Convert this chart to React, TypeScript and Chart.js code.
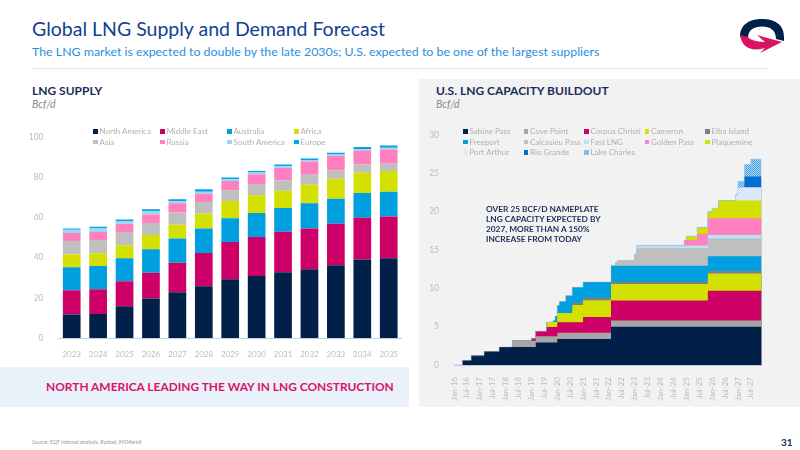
import { useEffect, useRef } from 'react';
import Chart from 'chart.js/auto';

const FONT = 'Lato, sans-serif';
const TICK_GREY = '#bcbcbc';

// left chart
const years = ['2023', '2024', '2025', '2026', '2027', '2028', '2029', '2030', '2031', '2032', '2033', '2034', '2035'];
const northAmerica = [11.7, 12, 15.8, 19.7, 22.8, 25.7, 29.2, 30.8, 32.7, 34.2, 36.2, 39, 39.7];
const middleEast = [12, 12.3, 12.4, 12.8, 14.7, 16.6, 18.5, 19.5, 20.1, 20.3, 20.6, 20.8, 20.8];
const australia = [11.5, 11.5, 11.5, 11.7, 12, 12.2, 11.9, 11.9, 11.9, 12.5, 12.5, 12.4, 12.3];
const africa = [6.5, 6.4, 6.5, 7, 6.8, 7.5, 8.5, 8.8, 8.6, 9.2, 9.9, 10, 10.3];
const asia = [6.5, 6.5, 6.5, 6, 6.2, 5.7, 5.4, 5.3, 5, 5, 4.3, 4.1, 3.6];
const russia = [4.1, 4, 4.1, 4.3, 4.5, 4.1, 4.6, 5.2, 6.3, 6.6, 7.2, 7, 7.1];
const southAmerica = [1.5, 2, 1.4, 1.5, 1, 1, 0.9, 0.8, 0.9, 0.7, 0.6, 0.7, 0.8];
const europe = [0.7, 0.6, 0.8, 1, 1, 1.2, 0.8, 0.8, 0.8, 0.8, 0.9, 1, 1.2];

const supplyNames = ['North America', 'Middle East', 'Australia', 'Africa', 'Asia', 'Russia', 'South America', 'Europe'];
const supplyValues = [northAmerica, middleEast, australia, africa, asia, russia, southAmerica, europe];
const supplyColors = ['#00204a', '#cc0066', '#009fdf', '#d4e000', '#bfbfbf', '#ff80bf', '#99d6f7', '#00a5e6'];
const yTicksLeft = [0, 20, 40, 60, 80, 100];

// right chart, months since Jan-16 where any project changes
const stepMonths = [0, 4, 8, 14, 21, 27, 36, 38, 43, 46, 47, 48, 49, 52, 55, 60, 73, 75, 76, 84, 85, 107, 108, 113, 118, 120, 123, 131, 132, 135, 138, 143];
const monthTicks = ['Jan-16', 'Jul-16', 'Jan-17', 'Jul-17', 'Jan-18', 'Jul-18', 'Jan-19', 'Jul-19', 'Jan-20', 'Jul-20', 'Jan-21', 'Jul-21', 'Jan-22', 'Jul-22', 'Jan-23', 'Jul-23', 'Jan-24', 'Jul-24', 'Jan-25', 'Jul-25', 'Jan-26', 'Jul-26', 'Jan-27', 'Jul-27'];
const sabinePass = [0, 0.6, 1.2, 1.75, 2.35, 2.35, 2.35, 2.95, 2.95, 2.95, 2.95, 3.4, 3.4, 3.4, 3.4, 3.4, 5, 5, 5, 5, 5, 5, 5, 5, 5, 5, 5, 5, 5, 5, 5, 5];
const covePoint = [0, 0, 0, 0, 0, 0.8, 0.8, 0.8, 0.8, 0.8, 0.8, 0.8, 0.8, 0.8, 0.8, 0.8, 0.8, 0.8, 0.8, 0.8, 0.8, 0.8, 0.8, 0.8, 0.8, 0.8, 0.8, 0.8, 0.8, 0.8, 0.8, 0.8];
const corpusChristi = [0, 0, 0, 0, 0, 0, 0.3, 0.65, 1.2, 1.2, 1.2, 1.36, 1.36, 1.36, 1.36, 2.06, 2.6, 2.6, 2.6, 2.6, 2.6, 2.6, 2.6, 2.6, 3.9, 3.9, 3.9, 3.9, 3.9, 3.9, 3.9, 3.9];
const cameron = [0, 0, 0, 0, 0, 0, 0, 0, 0.65, 0.65, 0.65, 1.22, 1.22, 1.22, 2.27, 2.2, 2.15, 2.15, 2.15, 2.15, 2.15, 2.15, 2.15, 2.15, 2.25, 2.25, 2.25, 2.25, 2.25, 2.25, 2.25, 2.25];
const elbaIsland = [0, 0, 0, 0, 0, 0, 0, 0, 0, 0, 0, 0, 0, 0, 0.3, 0.3, 0.3, 0.3, 0.3, 0.3, 0.3, 0.3, 0.3, 0.3, 0.3, 0.3, 0.3, 0.3, 0.3, 0.3, 0.3, 0.3];
const freeport = [0, 0, 0, 0, 0, 0, 0, 0, 0, 0.2, 0.8, 1, 1.5, 2.26, 2, 2.07, 2.1, 2.1, 2.1, 2.1, 2.1, 2.1, 2.1, 2.1, 1.95, 1.95, 1.95, 1.95, 1.95, 1.95, 1.95, 1.95];
const calcasieuPass = [0, 0, 0, 0, 0, 0, 0, 0, 0, 0, 0, 0, 0, 0, 0, 0, 0, 0.4, 0.65, 1.5, 2.3, 2.3, 2.3, 2.3, 2.3, 2.3, 2.3, 2.3, 2.3, 2.3, 2.3, 2.3];
const fastLng = [0, 0, 0, 0, 0, 0, 0, 0, 0, 0, 0, 0, 0, 0, 0, 0, 0, 0, 0, 0, 0.35, 0.35, 0.35, 0.35, 0.45, 0.45, 0.45, 0.45, 0.45, 0.45, 0.45, 0.45];
const goldenPass = [0, 0, 0, 0, 0, 0, 0, 0, 0, 0, 0, 0, 0, 0, 0, 0, 0, 0, 0, 0, 0, 0.7, 0.7, 1.48, 2.2, 2.2, 2.2, 2.2, 2.2, 2.2, 2.2, 2.2];
const plaquemine = [0, 0, 0, 0, 0, 0, 0, 0, 0, 0, 0, 0, 0, 0, 0, 0, 0, 0, 0, 0, 0, 0, 0.5, 0.87, 0.87, 1.3, 2.3, 2.3, 2.3, 2.3, 2.3, 2.3];
const portArthur = [0, 0, 0, 0, 0, 0, 0, 0, 0, 0, 0, 0, 0, 0, 0, 0, 0, 0, 0, 0, 0, 0, 0, 0, 0, 0, 0, 0.8, 1.75, 1.75, 1.75, 1.75];
const rioGrande = [0, 0, 0, 0, 0, 0, 0, 0, 0, 0, 0, 0, 0, 0, 0, 0, 0, 0, 0, 0, 0, 0, 0, 0, 0, 0, 0, 0, 0, 1.4, 1.4, 1.4];
const lakeCharles = [null, null, null, null, null, null, null, null, null, null, null, null, null, null, null, null, null, null, null, null, null, null, null, null, null, null, null, 0, 0.78, 1.55, 2.25, 2.25];

const projectNames = ['Sabine Pass', 'Cove Point', 'Corpus Christi', 'Cameron', 'Elba Island', 'Freeport', 'Calcasieu Pass', 'Fast LNG', 'Golden Pass', 'Plaquemine', 'Port Arthur', 'Rio Grande', 'Lake Charles'];
const projectValues = [sabinePass, covePoint, corpusChristi, cameron, elbaIsland, freeport, calcasieuPass, fastLng, goldenPass, plaquemine, portArthur, rioGrande, lakeCharles];
const projectColors = ['#00204a', '#a6a6a6', '#cc0066', '#d4e000', '#7f7f7f', '#009fdf', '#bfbfbf', '#b8e2f8', '#ff80bf', '#d4e000', '#dce9fb', '#0070cc', '#7dbff2'];
const yTicksRight = [0, 5, 10, 15, 20, 25, 30];

// top of the stack, for the dotted outline
const stackTop = stepMonths.map((_, k) => projectValues.reduce((sum: number, s: any) => sum + (s[k] ?? 0), 0));

const calloutLines = ['OVER 25 BCF/D NAMEPLATE', 'LNG CAPACITY EXPECTED BY', '2027, MORE THAN A 150%', 'INCREASE FROM TODAY'];

const hatch = () => {
  const c = document.createElement('canvas');
  c.width = 2;
  c.height = 2;
  const g = c.getContext('2d')!;
  g.fillStyle = '#a5d5f8';
  g.fillRect(0, 0, 2, 2);
  g.fillStyle = '#4da3ea';
  g.fillRect(0, 0, 1, 1);
  g.fillRect(1, 1, 1, 1);
  return g.createPattern(c, 'repeat')!;
};

const Legend = ({ names, colors, left, top, col, row }: any) => (
  <div style={{ position: 'absolute', left, top, display: 'grid', gridTemplateColumns: `repeat(${Math.ceil(names.length / (names.length > 8 ? 3 : 2))}, ${col}px)`, gridAutoRows: row, fontSize: 8, color: '#b0b0b0', lineHeight: `${row}px`, whiteSpace: 'nowrap' }}>
    {names.map((n: string, i: number) => (
      <div key={n} style={{ display: 'flex', alignItems: 'center', gap: 2 }}>
        <span style={{ width: 4.5, height: 4.5, background: colors[i], display: 'inline-block' }} />
        {n}
      </div>
    ))}
  </div>
);

const App = () => {
  const supplyRef = useRef<HTMLCanvasElement>(null);
  const capacityRef = useRef<HTMLCanvasElement>(null);

  useEffect(() => {
    const tickFont = { family: FONT, size: 8.5 };

    const supply = new Chart(supplyRef.current!, {
      type: 'bar',
      data: {
        labels: years,
        datasets: supplyNames.map((name, i) => ({
          label: name,
          data: supplyValues[i],
          backgroundColor: supplyColors[i],
          barPercentage: 1,
          categoryPercentage: 0.67,
        })),
      },
      options: {
        animation: false,
        responsive: false,
        layout: { padding: { top: 17, left: 0, right: 0, bottom: 0 } },
        plugins: { legend: { display: false }, tooltip: { enabled: false } },
        scales: {
          x: {
            stacked: true,
            grid: { display: false },
            border: { color: '#c3cede' },
            ticks: { color: TICK_GREY, font: { family: FONT, size: 8 }, padding: 4, maxRotation: 0 },
            afterFit: (s: any) => { s.height = 22; },
          },
          y: {
            stacked: true,
            min: 0,
            max: 100,
            afterBuildTicks: (s: any) => { s.ticks = yTicksLeft.map((value) => ({ value })); },
            grid: { display: false },
            border: { display: false },
            ticks: { color: TICK_GREY, font: tickFont, padding: 7 },
            afterFit: (s: any) => { s.width = 28.5; },
          },
        },
      },
    });

    const pattern = hatch();
    // every layer fills down to zero; chart.js paints dataset 0 last, so lower layers cover upper ones
    const layers: any[] = projectNames.map((name, i) => ({
      label: name,
      data: projectValues[i],
      stepped: true,
      fill: 'origin',
      backgroundColor: i === projectNames.length - 1 ? pattern : projectColors[i],
      borderWidth: 0,
      pointRadius: 0,
    }));
    const outline = {
      label: 'Outline',
      data: stackTop,
      yAxisID: 'yTop',
      order: -1,
      stepped: true,
      fill: false,
      borderColor: '#79bdf2',
      borderWidth: 0.8,
      borderDash: [1, 1],
      pointRadius: 0,
    };

    const capacity = new Chart(capacityRef.current!, {
      type: 'line',
      data: { labels: stepMonths, datasets: [...layers, outline] },
      options: {
        animation: false,
        responsive: false,
        layout: { padding: { top: 15, left: 0, right: 8.4, bottom: 0 } },
        plugins: { legend: { display: false }, tooltip: { enabled: false }, filler: { propagate: false } },
        scales: {
          x: {
            type: 'linear',
            min: 0,
            max: 143,
            grid: { display: false },
            border: { color: '#b9c8da' },
            ticks: {
              stepSize: 6,
              includeBounds: false,
              autoSkip: false,
              minRotation: 90,
              maxRotation: 90,
              color: TICK_GREY,
              font: { family: FONT, size: 8 },
              padding: 4,
              callback: (v: any) => monthTicks[v / 6] ?? '',
            },
            afterFit: (s: any) => { s.height = 40; },
          },
          y: {
            stacked: true,
            min: 0,
            max: 30,
            afterBuildTicks: (s: any) => { s.ticks = yTicksRight.map((value) => ({ value })); },
            grid: { display: false },
            border: { display: false },
            ticks: { color: TICK_GREY, font: tickFont, padding: 7 },
            afterFit: (s: any) => { s.width = 24; },
          },
          yTop: { display: false, min: 0, max: 30 },
        },
      },
    });

    return () => {
      supply.destroy();
      capacity.destroy();
    };
  }, []);

  const abs = (left: number, top: number, extra: any = {}) => ({ position: 'absolute', left, top, whiteSpace: 'nowrap', ...extra }) as any;

  return (
    <div style={{ position: 'absolute', left: 0, top: 0, width: 800, height: 450, overflow: 'hidden', background: '#fff', fontFamily: FONT }}>
      <div style={abs(32, 15, { fontSize: 19.5, lineHeight: '28px', color: '#12408f' })}>Global LNG Supply and Demand Forecast</div>
      <div style={abs(32, 43, { fontSize: 12.37, lineHeight: '18px', color: '#2b8fdc' })}>The LNG market is expected to double by the late 2030s; U.S. expected to be one of the largest suppliers</div>
      <div style={abs(32, 67.5, { width: 736, height: 1, background: '#dfe3ec' })} />

      <svg style={abs(700, 10)} width={100} height={60} viewBox="0 0 100 60">
        <path d="M40 27C40 14 50 9 62 9C74 9 84 14 84 27L84 31L76 29C76 20 70 16.5 62 16.5C54 16.5 48 20 48 28Z" fill="#00204a" />
        <path d="M40 25L48 27C50 30 57 32 65 32L57 25L82 32L60 43L65 38C52 42 42 38 40 25Z" fill="#d9145f" />
      </svg>

      <div style={abs(32, 83, { fontSize: 12, lineHeight: '16px', fontWeight: 700, color: '#1c2d5a' })}>LNG SUPPLY</div>
      <div style={abs(32, 97, { fontSize: 10.5, lineHeight: '14px', fontStyle: 'italic', color: '#8a8a8a' })}>Bcf/d</div>
      <canvas ref={supplyRef} width={372} height={240} style={abs(30, 120, { display: 'block' })} />
      <Legend names={supplyNames} colors={supplyColors} left={93} top={126} col={67} row={10.5} />

      <div style={abs(0, 367, { width: 409, height: 39.5, background: '#e9f1fb' })} />
      <div style={abs(46, 378, { fontSize: 11.93, lineHeight: '18px', fontWeight: 700, color: '#d9126a' })}>NORTH AMERICA LEADING THE WAY IN LNG CONSTRUCTION</div>

      <div style={abs(418.5, 79, { width: 381.5, height: 327.5, background: '#f2f2f2' })} />
      <div style={abs(436, 83, { fontSize: 12, lineHeight: '16px', fontWeight: 700, color: '#1c2d5a' })}>U.S. LNG CAPACITY BUILDOUT</div>
      <div style={abs(436, 97, { fontSize: 10.5, lineHeight: '14px', fontStyle: 'italic', color: '#8a8a8a' })}>Bcf/d</div>
      <canvas ref={capacityRef} width={340} height={285.5} style={abs(430, 120, { display: 'block' })} />
      <Legend names={projectNames} colors={projectColors} left={463} top={126} col={60.5} row={10.5} />
      <div style={abs(486, 204, { fontSize: 8.3, lineHeight: '10px', fontWeight: 700, color: '#1c2d5a' })}>
        {calloutLines.map((l) => <div key={l}>{l}</div>)}
      </div>

      <div style={abs(32, 438, { fontSize: 5.5, lineHeight: '8px', fontStyle: 'italic', color: '#9a9a9a' })}>Source: EQT internal analysis, Rystad, IHSMarkit</div>
      <div style={abs(781, 436, { fontSize: 10, lineHeight: '12px', fontWeight: 700, color: '#1c2d5a' })}>31</div>
    </div>
  );
};

export default App;
